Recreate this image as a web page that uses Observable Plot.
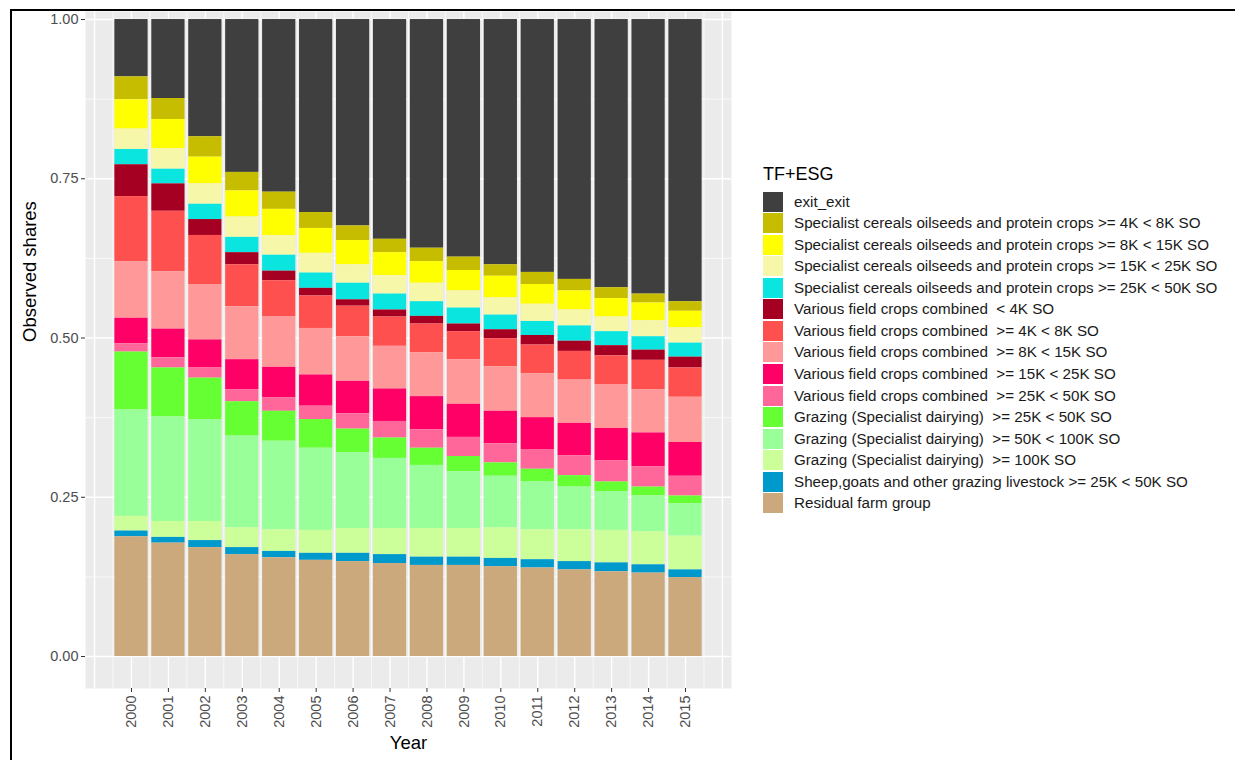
<!DOCTYPE html>
<html>
<head>
<meta charset="utf-8">
<script src="https://cdn.jsdelivr.net/npm/d3@7"></script>
<script src="https://cdn.jsdelivr.net/npm/@observablehq/plot@0.6"></script>
<style>
  html, body { margin: 0; padding: 0; background: #fff; }
  body { width: 1235px; height: 760px; overflow: hidden; position: relative; font-family: "Liberation Sans", Arial, sans-serif; }
  #frame { position: absolute; left: 10px; top: 9px; width: 1300px; height: 800px; border-top: 2px solid #000; border-left: 2px solid #000; pointer-events: none; }
  #chart { position: absolute; left: 0; top: 0; }
  #legend { position: absolute; left: 0; top: 0; }
  .ltitle { position: absolute; left: 763px; top: 163px; font-size: 18px; line-height: 22px; color: #000; white-space: pre; }
  .lrow { position: absolute; left: 763px; height: 20px; display: flex; align-items: center; }
  .lkey { width: 20px; height: 20px; flex: none; }
  .ltext { margin-left: 11px; font-size: 15.2px; color: #1a1a1a; white-space: pre; line-height: 20px; }
</style>
</head>
<body>
<div id="chart"></div>
<div id="legend"></div>
<div id="frame"></div>
<script>
// ---- data ----
const years = [2000,2001,2002,2003,2004,2005,2006,2007,2008,2009,2010,2011,2012,2013,2014,2015];

// legend order (top of legend = top of stack)
const categories = [
  "exit_exit",
  "Specialist cereals oilseeds and protein crops >= 4K < 8K SO",
  "Specialist cereals oilseeds and protein crops >= 8K < 15K SO",
  "Specialist cereals oilseeds and protein crops >= 15K < 25K SO",
  "Specialist cereals oilseeds and protein crops >= 25K < 50K SO",
  "Various field crops combined  < 4K SO",
  "Various field crops combined  >= 4K < 8K SO",
  "Various field crops combined  >= 8K < 15K SO",
  "Various field crops combined  >= 15K < 25K SO",
  "Various field crops combined  >= 25K < 50K SO",
  "Grazing (Specialist dairying)  >= 25K < 50K SO",
  "Grazing (Specialist dairying)  >= 50K < 100K SO",
  "Grazing (Specialist dairying)  >= 100K SO",
  "Sheep,goats and other grazing livestock >= 25K < 50K SO",
  "Residual farm group"
];

const colors = [
  "#3f3f3f", "#c6bd00", "#ffff00", "#f7f7aa", "#0ae5df",
  "#a50021", "#ff5050", "#ff9999", "#ff0066", "#ff6699",
  "#66ff33", "#99ff99", "#ccff99", "#0099cc", "#cca97c"
];

const exitExit      = [.090,.124,.184,.240,.271,.303,.324,.345,.359,.373,.385,.397,.408,.421,.431,.443];
const spec4to8      = [.036,.033,.032,.029,.027,.025,.023,.021,.021,.021,.018,.019,.018,.017,.014,.015];
const spec8to15     = [.046,.046,.042,.041,.041,.039,.038,.036,.034,.032,.034,.031,.030,.029,.028,.026];
const spec15to25    = [.032,.032,.032,.032,.031,.031,.029,.029,.029,.027,.027,.027,.025,.023,.025,.024];
const spec25to50    = [.024,.023,.024,.024,.025,.024,.026,.025,.023,.025,.023,.022,.024,.022,.021,.022];
const field0to4     = [.050,.043,.025,.019,.015,.012,.010,.011,.012,.012,.014,.015,.016,.016,.016,.017];
const field4to8     = [.102,.095,.077,.066,.057,.051,.048,.046,.045,.044,.044,.045,.045,.045,.046,.046];
const field8to15    = [.089,.090,.087,.083,.079,.073,.070,.067,.069,.070,.070,.069,.068,.069,.068,.071];
const field15to25   = [.040,.045,.044,.047,.048,.049,.051,.051,.052,.052,.051,.050,.051,.051,.053,.053];
const field25to50   = [.013,.016,.016,.019,.021,.021,.024,.026,.029,.030,.030,.031,.031,.033,.032,.031];
const dairy25to50   = [.091,.077,.065,.054,.047,.045,.037,.032,.027,.024,.021,.020,.018,.015,.014,.012];
const dairy50to100  = [.167,.164,.160,.144,.139,.129,.119,.110,.099,.089,.081,.075,.067,.061,.056,.051];
const dairy100plus  = [.023,.025,.030,.031,.034,.036,.039,.041,.045,.045,.048,.047,.050,.051,.052,.053];
const sheep25to50   = [.009,.009,.011,.011,.010,.011,.013,.014,.013,.013,.013,.013,.013,.014,.013,.012];
const residual      = [.188,.178,.171,.160,.155,.151,.149,.146,.143,.143,.141,.139,.136,.133,.131,.124];

const seriesValues = [exitExit, spec4to8, spec8to15, spec15to25, spec25to50,
  field0to4, field4to8, field8to15, field15to25, field25to50,
  dairy25to50, dairy50to100, dairy100plus, sheep25to50, residual];

const yTicks = [0, 0.25, 0.5, 0.75, 1];
const yMinor = [0.125, 0.375, 0.625, 0.875];
const xMajorGrid = [1999,2000,2001,2002,2003,2004,2005,2006,2007,2008,2009,2010,2011,2012,2013,2014,2015,2016];
const xMinorGrid = [1999.5,2000.5,2001.5,2002.5,2003.5,2004.5,2005.5,2006.5,2007.5,2008.5,2009.5,2010.5,2011.5,2012.5,2013.5,2014.5,2015.5];

// ---- table ----
const table = [];
categories.forEach((cat, ci) => {
  years.forEach((yr, yi) => table.push({year: yr, cat, share: seriesValues[ci][yi]}));
});
const stackOrder = categories.slice().reverse(); // bottom to top

const plot = Plot.plot({
  width: 1235,
  height: 760,
  marginLeft: 85,
  marginRight: 504,
  marginTop: 11,
  marginBottom: 72,
  x: {domain: [1998.755, 2016.245], axis: null},
  y: {domain: [-0.0502, 1.0126], axis: null},
  color: {domain: categories, range: colors},
  style: {background: "transparent", fontFamily: "'Liberation Sans', Arial, sans-serif"},
  marks: [
    Plot.frame({fill: "#ebebeb", stroke: null}),
    Plot.ruleY(yMinor, {stroke: "#ffffff", strokeWidth: 0.7}),
    Plot.ruleX(xMinorGrid, {stroke: "#ffffff", strokeWidth: 0.7}),
    Plot.ruleY(yTicks, {stroke: "#ffffff", strokeWidth: 1.4}),
    Plot.ruleX(xMajorGrid, {stroke: "#ffffff", strokeWidth: 1.4}),
    Plot.rectY(table, {
      x1: d => d.year - 0.45,
      x2: d => d.year + 0.45,
      y: "share",
      fill: "cat",
      order: stackOrder
    }),
    Plot.axisY(yTicks, {
      anchor: "left",
      tickFormat: d => d.toFixed(2),
      tickSize: 4,
      tickPadding: 3,
      fontSize: 14.5,
      fill: "#4d4d4d",
      stroke: "#333333",
      label: null
    }),
    Plot.axisX(years, {
      anchor: "bottom",
      tickRotate: -90,
      tickFormat: d => String(d),
      tickSize: 4,
      tickPadding: 3,
      fontSize: 14.5,
      fill: "#4d4d4d",
      stroke: "#333333",
      label: null
    }),
    Plot.text(["Observed shares"], {frameAnchor: "left", dx: -55, dy: -8, rotate: -90, fontSize: 18.5, fill: "#000"}),
    Plot.text(["Year"], {frameAnchor: "bottom", dy: 60, fontSize: 18.5, fill: "#000"})
  ]
});
document.getElementById("chart").appendChild(plot);

// ---- legend ----
const legend = document.getElementById("legend");
const title = document.createElement("div");
title.className = "ltitle";
title.textContent = "TF+ESG";
legend.appendChild(title);
categories.forEach((cat, i) => {
  const row = document.createElement("div");
  row.className = "lrow";
  row.style.top = (191.5 + i * 21.57) + "px";
  const key = document.createElement("div");
  key.className = "lkey";
  key.style.background = colors[i];
  const txt = document.createElement("div");
  txt.className = "ltext";
  txt.textContent = cat;
  row.appendChild(key);
  row.appendChild(txt);
  legend.appendChild(row);
});
</script>
</body>
</html>
